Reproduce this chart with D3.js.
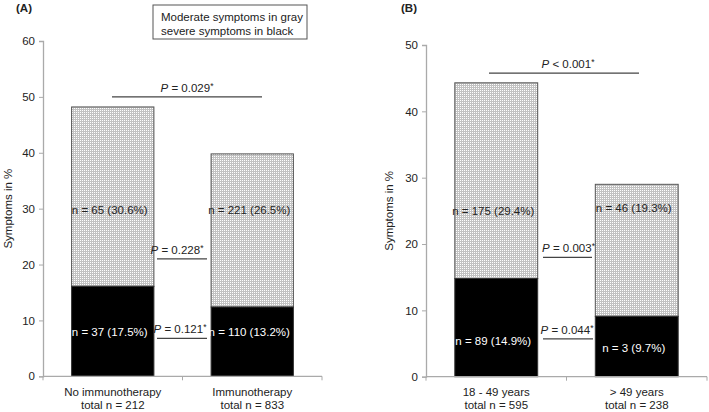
<!DOCTYPE html>
<html><head><meta charset="utf-8">
<script src="https://cdn.jsdelivr.net/npm/d3@7"></script>
<style>
body{margin:0;background:#fff;}
svg{display:block;font-family:"Liberation Sans",Arial,sans-serif;}
</style></head>
<body>
<svg id="chart" width="709" height="412"></svg>
<script>
// ---------- data ----------
const catsA = ["No immunotherapy", "Immunotherapy"];
const catsATotals = ["total n = 212", "total n = 833"];
const severeA = [16.1, 12.4];
const moderateA = [32.1, 27.4];
const severeLabelsA = ["n = 37 (17.5%)", "n = 110 (13.2%)"];
const moderateLabelsA = ["n = 65 (30.6%)", "n = 221 (26.5%)"];
const ticksA = [0, 10, 20, 30, 40, 50, 60];
const pValuesA = ["0.029", "0.228", "0.121"];
const pOpsA = ["=", "=", "="];

const catsB = ["18 - 49 years", "> 49 years"];
const catsBTotals = ["total n = 595", "total n = 238"];
const severeB = [14.8, 9.1];
const moderateB = [29.5, 19.9];
const severeLabelsB = ["n = 89 (14.9%)", "n = 3 (9.7%)"];
const moderateLabelsB = ["n = 175 (29.4%)", "n = 46 (19.3%)"];
const ticksB = [0, 10, 20, 30, 40, 50];
const pValuesB = ["0.001", "0.003", "0.044"];
const pOpsB = ["<", "=", "="];

const legendLines = ["Moderate symptoms in gray", "severe symptoms in black"];
const yTitle = "Symptoms in %";

// ---------- drawing ----------
const FS = 11.5;
const svg = d3.select("#chart");
const defs = svg.append("defs");
const pat = defs.append("pattern").attr("id", "stipple").attr("patternUnits", "userSpaceOnUse")
  .attr("x", 0).attr("y", 0).attr("width", 2).attr("height", 2);
pat.append("rect").attr("width", 2).attr("height", 2).attr("fill", "#c2c2c2");
pat.append("rect").attr("x", 0).attr("y", 0).attr("width", 1).attr("height", 1).attr("fill", "#ffffff");

function panel(cfg) {
  const g = svg.append("g");
  const x = d3.scaleBand().domain(cfg.cats).range(cfg.xr).paddingInner(0.41).paddingOuter(0.205);
  const y = d3.scaleLinear().domain([0, cfg.ymax]).range(cfg.yr);

  // bars
  const data = cfg.cats.map((c, i) => ({c, s: cfg.severe[i], m: cfg.moderate[i], i}));
  g.selectAll(".mod").data(data).join("rect")
    .attr("x", d => x(d.c)).attr("width", x.bandwidth())
    .attr("y", d => y(d.s + d.m)).attr("height", d => y(d.s) - y(d.s + d.m))
    .attr("fill", "url(#stipple)").attr("stroke", "#555").attr("stroke-width", 1);
  g.selectAll(".sev").data(data).join("rect")
    .attr("x", d => x(d.c)).attr("width", x.bandwidth())
    .attr("y", d => y(d.s)).attr("height", d => y(0) - y(d.s))
    .attr("fill", "#000").attr("stroke", "#333").attr("stroke-width", 1);

  // y axis
  const ya = g.append("g").attr("transform", `translate(${cfg.xr[0]},0)`)
    .call(d3.axisLeft(y).tickValues(cfg.ticks).tickSize(4).tickPadding(4));
  ya.select(".domain").attr("stroke", "#aaa").attr("stroke-width", 1.3);
  ya.selectAll(".tick line").attr("stroke", "#aaa");
  ya.selectAll(".tick text").attr("font-size", FS).attr("fill", "#222").attr("font-family", "Liberation Sans, Arial");

  // x axis with ticks at band boundaries
  const xa = g.append("g").attr("transform", `translate(0,${y(0)})`);
  xa.append("line").attr("x1", cfg.xr[0]).attr("x2", cfg.xr[1]).attr("stroke", "#aaa").attr("stroke-width", 1.3);
  const bounds = [cfg.xr[0], (cfg.xr[0] + cfg.xr[1]) / 2, cfg.xr[1]];
  xa.selectAll(".xt").data(bounds).join("line").attr("x1", d => d).attr("x2", d => d)
    .attr("y1", 0).attr("y2", 4).attr("stroke", "#aaa");
  data.forEach(d => {
    const t = xa.append("text").attr("text-anchor", "middle").attr("font-size", FS).attr("fill", "#222");
    t.append("tspan").attr("x", x(d.c) + x.bandwidth() / 2).attr("y", 19.5).text(d.c);
    t.append("tspan").attr("x", x(d.c) + x.bandwidth() / 2).attr("y", 32.3).text(cfg.totals[d.i]);
  });

  // y title
  g.append("text").attr("transform", `translate(${cfg.titleX},${(cfg.yr[0] + cfg.yr[1]) / 2}) rotate(-90)`)
    .attr("text-anchor", "middle").attr("dy", "0.35em").attr("font-size", FS).attr("fill", "#222").text(yTitle);

  // in-bar labels
  data.forEach(d => {
    const cx = x(d.c) + x.bandwidth() / 2 - 3;
    g.append("text").attr("x", cx).attr("y", y(cfg.modLabelY[d.i])).attr("dy", "0.35em")
      .attr("text-anchor", "middle").attr("font-size", FS).attr("fill", "#222").text(cfg.modLabels[d.i]);
    g.append("text").attr("x", cx).attr("y", y(cfg.sevLabelY[d.i])).attr("dy", "0.35em")
      .attr("text-anchor", "middle").attr("font-size", FS).attr("fill", "#fff").text(cfg.sevLabels[d.i]);
  });

  // P-value annotations
  cfg.pAnn.forEach((p, k) => {
    const ly = y(p.v);
    g.append("line").attr("x1", p.x1).attr("x2", p.x2).attr("y1", ly).attr("y2", ly)
      .attr("stroke", "#444").attr("stroke-width", 1.2);
    const t = g.append("text").attr("x", (p.x1 + p.x2) / 2 + p.dx).attr("y", ly - 5)
      .attr("text-anchor", "middle").attr("font-size", FS).attr("fill", "#222");
    t.append("tspan").attr("font-style", "italic").text("P");
    t.append("tspan").text(` ${cfg.pOps[k]} ${cfg.pVals[k]}`);
    t.append("tspan").attr("font-size", 8.5).attr("dy", -3).text("*");
  });

  // panel letter
  svg.append("text").attr("x", cfg.letterX).attr("y", 12).attr("font-size", FS).attr("font-weight", "bold")
    .attr("fill", "#222").text(cfg.letter);
}

panel({
  cats: catsA, totals: catsATotals, severe: severeA, moderate: moderateA,
  sevLabels: severeLabelsA, modLabels: moderateLabelsA, ticks: ticksA, ymax: 60,
  xr: [43, 322], yr: [376.3, 41], titleX: 8, letter: "(A)", letterX: 16,
  modLabelY: [29.8, 29.8], sevLabelY: [7.9, 7.9],
  pVals: pValuesA, pOps: pOpsA,
  pAnn: [{v: 50.0, x1: 112, x2: 262, dx: 0}, {v: 21.0, x1: 157, x2: 207, dx: -5}, {v: 6.8, x1: 157, x2: 207, dx: -2}]
});

panel({
  cats: catsB, totals: catsBTotals, severe: severeB, moderate: moderateB,
  sevLabels: severeLabelsB, modLabels: moderateLabelsB, ticks: ticksB, ymax: 50,
  xr: [426, 707], yr: [376.7, 45], titleX: 389, letter: "(B)", letterX: 401,
  modLabelY: [25.0, 25.5], sevLabelY: [5.4, 4.3],
  pVals: pValuesB, pOps: pOpsB,
  pAnn: [{v: 45.75, x1: 489, x2: 639, dx: 4}, {v: 18.0, x1: 543, x2: 592, dx: 1}, {v: 5.7, x1: 543, x2: 593, dx: -1}]
});

// legend box
const lg = svg.append("g");
lg.append("rect").attr("x", 153).attr("y", 5).attr("width", 154).attr("height", 34)
  .attr("fill", "#fff").attr("stroke", "#555").attr("stroke-width", 1);
legendLines.forEach((l, i) => {
  lg.append("text").attr("x", 161).attr("y", 21 + i * 13.5).attr("font-size", FS).attr("fill", "#222").text(l);
});
</script>
</body></html>
